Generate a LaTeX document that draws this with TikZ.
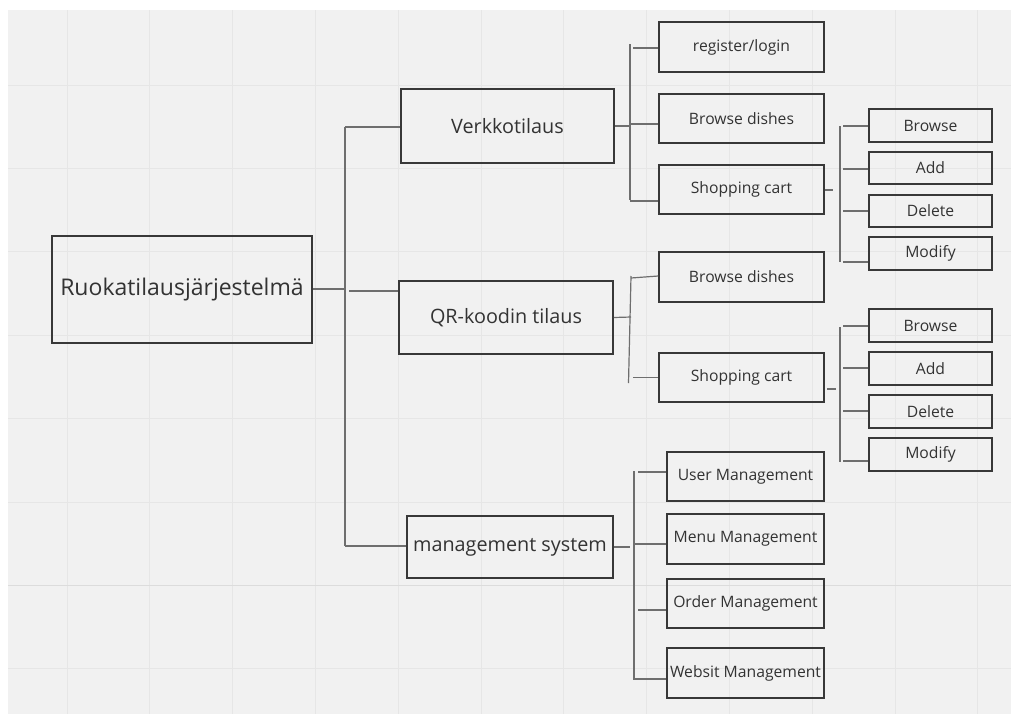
\documentclass[tikz,border=0pt]{standalone}
\usepackage{fontspec}
\setmainfont{Open Sans}
\definecolor{canvas}{HTML}{F1F1F1}
\definecolor{gridln}{HTML}{E6E6E6}
\definecolor{gridmaj}{HTML}{DCDCDC}
\definecolor{boxln}{HTML}{383838}
\definecolor{txt}{HTML}{333333}
\definecolor{connln}{HTML}{6E6E6E}
\tikzset{
  box/.style={draw=boxln, line width=1.6pt, text=txt, inner sep=0pt, align=center},
  rootbox/.style={box, font=\fontsize{23}{27}\selectfont},
  midbox/.style={box, font=\fontsize{19.8}{24}\selectfont},
  leafbox/.style={box, minimum width=165pt, minimum height=49.5pt, font=\fontsize{15.7}{18}\selectfont},
  opbox/.style={box, minimum width=123pt, minimum height=32.5pt, font=\fontsize{15.7}{18}\selectfont},
  mgbox/.style={box, minimum width=157pt, minimum height=49.5pt, font=\fontsize{15.7}{18}\selectfont},
  conn/.style={draw=connln, line width=1.2pt}
}
\begin{document}
\begin{tikzpicture}[x=1pt, y=-1pt]
\useasboundingbox (0,0) rectangle (1011,715);
% canvas and grid
\fill[white] (0,0) rectangle (1011,715);
\fill[canvas] (8,10) rectangle (1011,714);
\foreach \i in {0,...,11} {
  \draw[gridln, line width=0.9pt] ({67+82.8*\i},10) -- ({67+82.8*\i},714);
}
\foreach \j in {0,...,7} {
  \draw[gridln, line width=0.9pt] (8,{85+83.4*\j}) -- (1011,{85+83.4*\j});
}
\draw[gridmaj, line width=1pt] (8,585.4) -- (1011,585.4);

% root and first level
\node[rootbox, minimum width=260pt, minimum height=107pt] (root) at (182,289.5) {Ruokatilausjärjestelmä};
\node[midbox, minimum width=213pt, minimum height=74pt] (verk) at (507.5,126) {Verkkotilaus};
\node[midbox, minimum width=214pt, minimum height=73pt] (qr) at (506,317.5) {QR-koodin tilaus};
\node[midbox, minimum width=206pt, minimum height=62pt] (mgmt) at (510,547) {management system};

% Verkkotilaus children
\node[leafbox] (reg) at (741.5,47) {register/login};
\node[leafbox] (bd1) at (741.5,118.5) {Browse dishes};
\node[leafbox] (sc1) at (741.5,189.5) {Shopping cart};
% QR children
\node[leafbox] (bd2) at (741.5,277) {Browse dishes};
\node[leafbox] (sc2) at (741.5,377.5) {Shopping cart};

% cart operations
\node[opbox] (b1) at (930.5,125.5) {Browse};
\node[opbox] (a1) at (930.5,168) {Add};
\node[opbox] (d1) at (930.5,211) {Delete};
\node[opbox] (m1) at (930.5,253.5) {Modify};
\node[opbox] (b2) at (930.5,325.5) {Browse};
\node[opbox] (a2) at (930.5,368.5) {Add};
\node[opbox] (d2) at (930.5,411.5) {Delete};
\node[opbox] (m2) at (930.5,454.5) {Modify};

% management children
\node[mgbox] (um) at (745.5,476.5) {User Management};
\node[mgbox] (mm) at (745.5,539) {Menu Management};
\node[mgbox] (om) at (745.5,603.5) {Order Management};
\node[mgbox] (wm) at (745.5,673) {Websit Management};

% ---- connectors ----
% trunk from root
\coordinate (rt) at (345,289);
\coordinate (tTop) at (345,127);
\coordinate (tBot) at (345,546);
\coordinate (tQr) at (349,291);
\draw[conn] (root.east |- rt) -- (rt);
\draw[conn] (tTop) -- (tBot);
\draw[conn] (tTop) -- (tTop -| verk.west);
\draw[conn] (tQr) -- (tQr -| qr.west);
\draw[conn] (tBot) -- (tBot -| mgmt.west);

% Verkkotilaus bracket
\coordinate (vJ) at (630,126);
\coordinate (vTop) at (630,44);
\coordinate (vBot) at (630,200);
\coordinate (vReg) at (633,48);
\coordinate (vBd) at (630,124);
\coordinate (vSc) at (630,201);
\draw[conn] (verk.east) -- (vJ);
\draw[conn] (vTop) -- (vBot);
\draw[conn] (vReg) -- (vReg -| reg.west);
\draw[conn] (vBd) -- (vBd -| bd1.west);
\draw[conn] (vSc) -- (vSc -| sc1.west);

% first cart bracket
\coordinate (c1stub) at (833,190);
\coordinate (c1Top) at (840,126);
\coordinate (c1Bot) at (840,262);
\coordinate (c1b) at (843,126);
\coordinate (c1a) at (843,169);
\coordinate (c1d) at (843,211);
\coordinate (c1m) at (843,262);
\draw[conn] (sc1.east |- c1stub) -- (c1stub);
\draw[conn] (c1Top) -- (c1Bot);
\draw[conn] (c1b) -- (c1b -| b1.west);
\draw[conn] (c1a) -- (c1a -| a1.west);
\draw[conn] (c1d) -- (c1d -| d1.west);
\draw[conn] (c1m) -- (c1m -| m1.west);

% QR bracket
\coordinate (qJ) at (631,317);
\coordinate (qTop) at (631,276);
\coordinate (qBot) at (628.5,383);
\coordinate (qBd) at (631,278);
\coordinate (qSc) at (633,377.5);
\draw[conn] (qr.east) -- (qJ);
\draw[conn] (qTop) -- (qBot);
\draw[conn] (qBd) -- (bd2.west |- 0,276);
\draw[conn] (qSc) -- (qSc -| sc2.west);

% second cart bracket
\coordinate (c2s1) at (827,389);
\coordinate (c2s2) at (836,389);
\coordinate (c2Top) at (840,327);
\coordinate (c2Bot) at (840,462);
\coordinate (c2b) at (843,326);
\coordinate (c2a) at (843,368);
\coordinate (c2d) at (843,411);
\coordinate (c2m) at (843,461);
\draw[conn] (c2s1) -- (c2s2);
\draw[conn] (c2Top) -- (c2Bot);
\draw[conn] (c2b) -- (c2b -| b2.west);
\draw[conn] (c2a) -- (c2a -| a2.west);
\draw[conn] (c2d) -- (c2d -| d2.west);
\draw[conn] (c2m) -- (c2m -| m2.west);

% management bracket
\coordinate (mJ) at (630,547);
\coordinate (mTop) at (634,471);
\coordinate (mBot) at (634,680);
\coordinate (mU) at (638,472);
\coordinate (mM) at (634,544);
\coordinate (mO) at (638,610);
\coordinate (mW) at (634,679);
\draw[conn] (mgmt.east) -- (mJ);
\draw[conn] (mTop) -- (mBot);
\draw[conn] (mU) -- (mU -| um.west);
\draw[conn] (mM) -- (mM -| mm.west);
\draw[conn] (mO) -- (mO -| om.west);
\draw[conn] (mW) -- (mW -| wm.west);
\end{tikzpicture}
\end{document}
